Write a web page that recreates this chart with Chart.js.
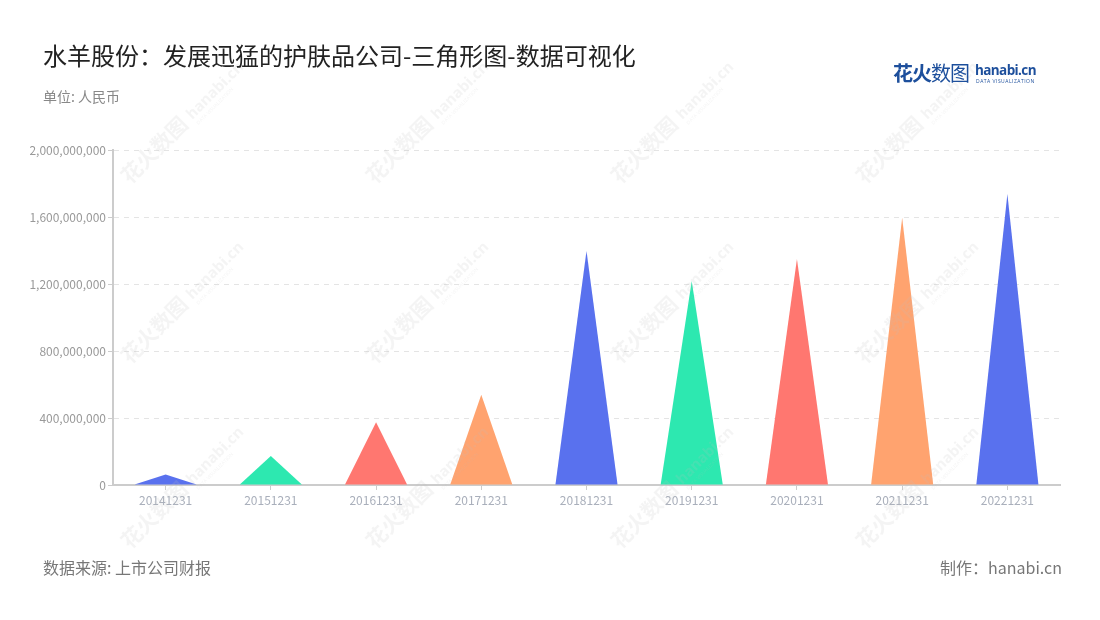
<!DOCTYPE html>
<html>
<head>
<meta charset="utf-8">
<script src="https://cdn.jsdelivr.net/npm/chart.js@4"></script>
<style>
  body { margin: 0; background: #fff; font-family: "Noto Sans CJK SC", "Noto Sans", sans-serif; }
  #wrap { position: relative; width: 1100px; height: 620px; overflow: hidden; }
  #c { position: absolute; left: 0; top: 0; }
  .txt { position: absolute; white-space: nowrap; }
  #title { left: 43px; top: 37px; font-size: 24px; color: #222; }
  #unit { left: 43px; top: 86px; font-size: 14px; color: #888; }
  #src { left: 43px; top: 555px; font-size: 16px; color: #777; }
  #maker { right: 38px; top: 555px; font-size: 16px; color: #777; }
  #logo { left: 893px; top: 58px; color: #1d4f9c; }
  #logo .cn { font-size: 20px; font-weight: bold; letter-spacing: -1px; }
  #logo .cn2 { font-weight: normal; }
  #logo .en { position: absolute; left: 82px; top: 3px; font-family: "Open Sans", sans-serif; font-weight: bold; font-size: 13.5px; letter-spacing: -0.6px; }
  #logo .sub { position: absolute; left: 83px; top: 20px; font-family: "Open Sans", sans-serif; font-size: 5px; letter-spacing: 0.5px; color: #1d4f9c; }
</style>
</head>
<body>
<div id="wrap">
  <canvas id="c" width="1100" height="620"></canvas>
  <div class="txt" id="title">水羊股份：发展迅猛的护肤品公司-三角形图-数据可视化</div>
  <div class="txt" id="unit">单位: 人民币</div>
  <div class="txt" id="src">数据来源: 上市公司财报</div>
  <div class="txt" id="maker">制作：hanabi.cn</div>
  <div class="txt" id="logo" style="width:144px;height:26px;">
    <span class="cn">花火<span class="cn2">数图</span></span>
    <span class="en">hanabi.cn</span>
    <span class="sub">DATA VISUALIZATION</span>
  </div>
</div>
<script>
var categories = ["20141231", "20151231", "20161231", "20171231", "20181231", "20191231", "20201231", "20211231", "20221231"];
var values = [63000000, 173000000, 374000000, 539000000, 1397000000, 1218000000, 1349000000, 1596000000, 1737000000];
var colors = ["#5971ee", "#2de8b0", "#ff7770", "#ffa36f", "#5971ee", "#2de8b0", "#ff7770", "#ffa36f", "#5971ee"];
var yTicks = [0, 400000000, 800000000, 1200000000, 1600000000, 2000000000];

// draw each bar as a triangle, using the bar element's geometry
var trianglePlugin = {
  id: 'triangles',
  afterDatasetsDraw: function (chart) {
    var ctx = chart.ctx
    var meta = chart.getDatasetMeta(0)
    meta.data.forEach(function (bar, i) {
      var p = bar.getProps(['x', 'y', 'base', 'width'], true)
      ctx.save()
      ctx.fillStyle = colors[i]
      ctx.beginPath()
      ctx.moveTo(p.x - p.width / 2, p.base)
      ctx.lineTo(p.x, p.y)
      ctx.lineTo(p.x + p.width / 2, p.base)
      ctx.closePath()
      ctx.fill()
      ctx.restore()
    })
  }
}

var watermarkPlugin = {
  id: 'watermark',
  afterDraw: function (chart) {
    var ctx = chart.ctx
    var xs = [130, 375, 620, 865]
    var ys = [185, 365, 550]
    ctx.save()
    ctx.fillStyle = 'rgba(190,190,190,0.17)'
    xs.forEach(function (x) {
      ys.forEach(function (y) {
        ctx.save()
        ctx.translate(x, y)
        ctx.rotate(-Math.PI / 4)
        ctx.textBaseline = 'alphabetic'
        ctx.font = 'bold 21px "Noto Sans CJK SC"'
        ctx.fillText('花火数图', 0, 0)
        ctx.font = 'bold 15px "Open Sans"'
        ctx.fillText('hanabi.cn', 90, -2)
        ctx.font = '5px "Open Sans"'
        ctx.fillText('DATA VISUALIZATION', 91, 6)
        ctx.restore()
      })
    })
    ctx.restore()
  }
}

var ctx = document.getElementById("c")

var myChart = new Chart(ctx, {
  type: 'bar',
  data: {
    labels: categories,
    datasets: [{
      data: values,
      backgroundColor: 'rgba(0,0,0,0)',
      borderWidth: 0,
      categoryPercentage: 1,
      barPercentage: 0.59
    }]
  },
  options: {
    responsive: false,
    animation: false,
    events: [],
    layout: { padding: { left: 0, top: 150, right: 40, bottom: 105 } },
    plugins: { legend: { display: false }, tooltip: { enabled: false } },
    scales: {
      x: {
        afterFit: function (scale) { scale.height = 30 },
        grid: { offset: false, drawOnChartArea: false, tickLength: 5, color: '#cccccc' },
        border: { color: '#cccccc', width: 2 },
        ticks: { color: '#a9afbb', padding: 3, font: { size: 12, family: '"Noto Sans CJK SC"' }, maxRotation: 0 }
      },
      y: {
        min: 0,
        max: 2000000000,
        afterFit: function (scale) { scale.width = 113 },
        afterBuildTicks: function (scale) { scale.ticks = yTicks.map(function (v) { return { value: v } }) },
        grid: { color: '#e4e4e4', tickColor: '#cccccc', tickLength: 5 },
        border: { color: '#cccccc', width: 2, dash: [5, 5] },
        ticks: {
          color: '#999999',
          padding: 2,
          font: { size: 12, family: '"Noto Sans CJK SC"' },
          callback: function (v) { return Number(v).toLocaleString('en-US') }
        }
      }
    }
  },
  plugins: [trianglePlugin, watermarkPlugin]
});
</script>
</body>
</html>
